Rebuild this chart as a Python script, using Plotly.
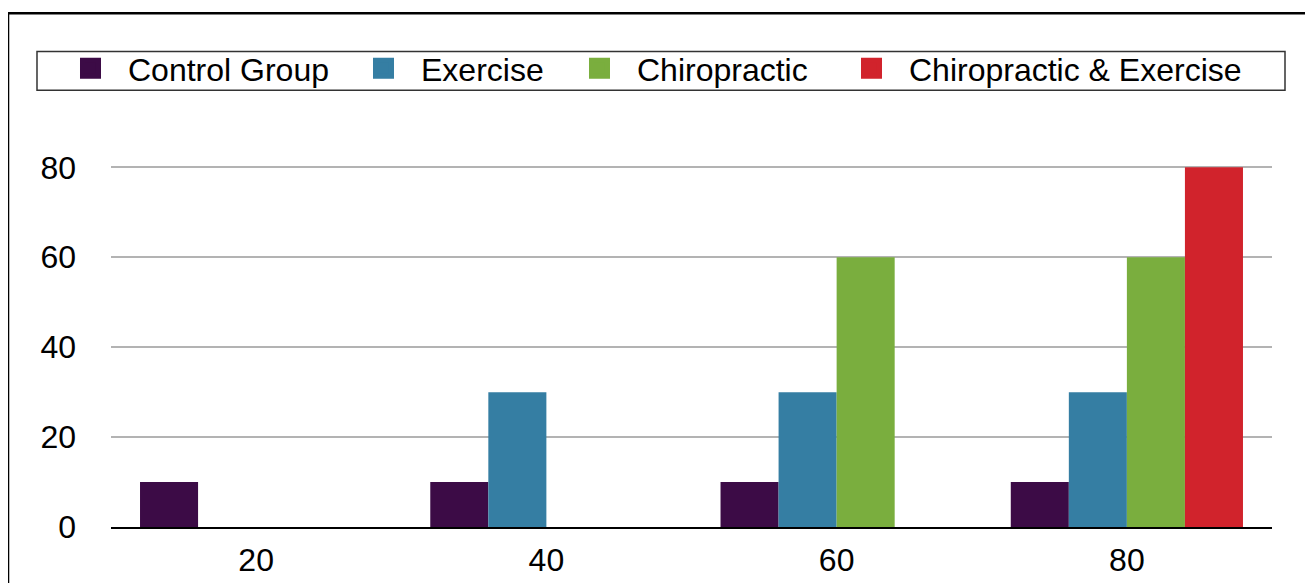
import plotly.graph_objects as go

categories = ["20", "40", "60", "80"]
series_names = ["Control Group", "Exercise", "Chiropractic", "Chiropractic & Exercise"]
control = [10, 10, 10, 10]
exercise = [None, 30, 30, 30]
chiro = [None, None, 60, 60]
chiro_ex = [None, None, None, 80]
y_ticks = [0, 20, 40, 60, 80]

colors = ["#3c0b46", "#357ea3", "#7aae3e", "#d1232c"]
legend_widths = [213, 136, 192, 340]
values = [control, exercise, chiro, chiro_ex]

FONT = "Liberation Sans, Arial, Helvetica, sans-serif"
FS = 32

fig = go.Figure()
for name, vals, col in zip(series_names, values, colors):
    fig.add_trace(go.Bar(x=categories, y=vals, name=name, marker=dict(color=col, line=dict(width=0)),
                         showlegend=False))
for name, col, lw in zip(series_names, colors, legend_widths):
    fig.add_trace(go.Scatter(x=[None], y=[None], mode="markers", name=name, legendwidth=lw,
                             marker=dict(symbol="square", size=20, color=col,
                                         line=dict(color=col, width=6))))

fig.update_layout(
    width=1313, height=583,
    margin=dict(l=103, r=49, t=157.65, b=64.3, autoexpand=False),
    paper_bgcolor="white", plot_bgcolor="white",
    barmode="group", bargap=0.2, bargroupgap=0,
    font=dict(family=FONT, size=FS, color="black"),
    legend=dict(orientation="h", x=-0.04996, y=1.2700, xanchor="left", yanchor="middle",
                borderwidth=0, bgcolor="rgba(0,0,0,0)",
                font=dict(family=FONT, size=FS, color="black"),
                itemsizing="trace", itemwidth=65, tracegroupgap=0),
    xaxis=dict(type="category", showgrid=False, showline=True, linecolor="black", linewidth=2,
               ticks="", ticklabelstandoff=4, tickfont=dict(size=FS), automargin=False),
    yaxis=dict(range=[0, 80.3], tickvals=y_ticks, showgrid=True, gridcolor="#b3b3b3", gridwidth=1.5,
               zeroline=False, showline=False, ticks="", ticklabelstandoff=34,
               tickfont=dict(size=FS), automargin=False),
    shapes=[
        dict(type="rect", xref="paper", yref="paper", x0=-0.06374, x1=1.0112, y0=1.2095, y1=1.3175,
             line=dict(color="#333", width=1.5), layer="below"),
        dict(type="line", xref="paper", yref="paper", x0=-0.0887, x1=1.2, y0=1.4228, y1=1.4228,
             line=dict(color="black", width=2.5)),
        dict(type="line", xref="paper", yref="paper", x0=-0.0887, x1=-0.0887, y0=1.4228, y1=-0.3,
             line=dict(color="black", width=2.5)),
    ],
)

fig.write_html("out.html")
